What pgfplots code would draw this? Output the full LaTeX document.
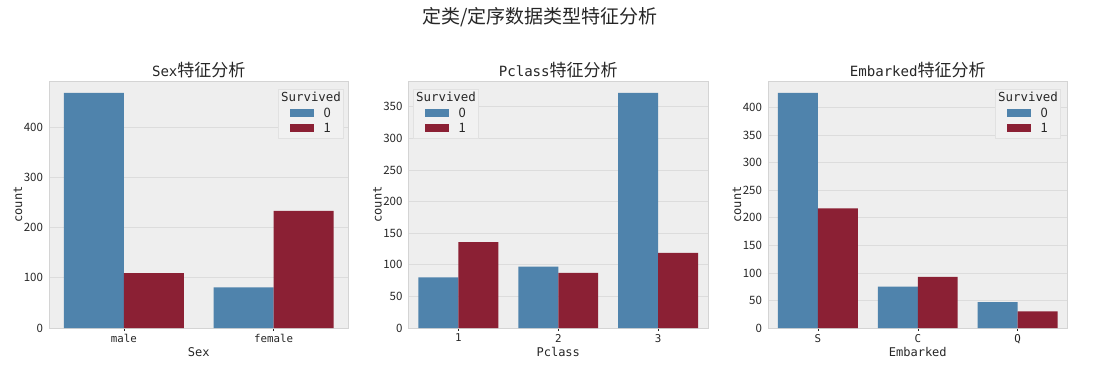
\documentclass[border=0pt]{standalone}
\usepackage{pgfplots}
\pgfplotsset{compat=1.18}
\usepackage{fontspec}
\setmainfont{Noto Sans CJK SC}
\newfontfamily\lat[Scale=0.83]{DejaVu Sans Mono}
\definecolor{c0}{HTML}{4F83AC}
\definecolor{c1}{HTML}{8B2034}
\definecolor{bg}{HTML}{EEEEEE}
\definecolor{gridc}{HTML}{DCDCDC}
\definecolor{framec}{HTML}{D4D4D4}
\definecolor{legbg}{HTML}{F1F1F1}
\definecolor{txt}{HTML}{262626}

\pgfplotsset{
  panel/.style={
    width=299.5pt, height=247pt, scale only axis,
    anchor=south west,
    axis background/.style={fill=bg},
    axis line style={framec, line width=0.8pt},
    ymin=0,
    ymajorgrids, major grid style={gridc, line width=0.8pt},
    tick align=outside, major tick length=2.5pt,
    xtick pos=bottom, ytick pos=left,
    xtick style={txt, line width=0.5pt},
    ytick style={draw=none},
    /pgf/number format/assume math mode=true,
    yticklabel style={font=\fontsize{11.5}{13}\selectfont, text=txt},
    xticklabel style={font=\fontsize{13}{15}\selectfont\lat, text=txt},
    every axis x label/.style={at={(rel axis cs:0.5,0)}, anchor=center, yshift=-24pt, font=\fontsize{14.5}{16}\selectfont\lat, text=txt},
    every axis y label/.style={at={(rel axis cs:0,0.5)}, xshift=-31pt, rotate=90, anchor=center, font=\fontsize{14.5}{16}\selectfont\lat, text=txt},
    every axis title/.style={at={(rel axis cs:0.5,1)}, anchor=center, yshift=11pt, font=\fontsize{17}{20}\selectfont, text=txt},
    ylabel={count},
  },
  b0/.style={ybar, fill=c0, draw=none, bar width=0.4, bar shift=-0.2},
  b1/.style={ybar, fill=c1, draw=none, bar width=0.4, bar shift=0.2},
}

\newcommand\survleg[1]{%
  \fill[legbg, draw=framec!70, line width=0.5pt] (#1,235) rectangle ++(65,49);
  \node[font=\fontsize{15}{17}\selectfont\lat, text=txt] at ({#1+33},276) {Survived};
  \fill[c0] ({#1+12},256) rectangle ++(24,8);
  \node[anchor=west, font=\fontsize{13}{15}\selectfont, text=txt] at ({#1+42},260) {0};
  \fill[c1] ({#1+12},241) rectangle ++(24,8);
  \node[anchor=west, font=\fontsize{13}{15}\selectfont, text=txt] at ({#1+42},245) {1};
}

\begin{document}
\begin{tikzpicture}[x=1pt,y=1pt]
\path[use as bounding box] (0,0) rectangle (1098,373);

\begin{axis}[panel, at={(49pt,45pt)},
  xmin=-0.5, xmax=1.5, ymax=491.4,
  xtick={0,1}, xticklabels={male,female},
  ytick={0,100,200,300,400},
  xlabel={Sex}, title={{\lat Sex}特征分析}]
\addplot[b0] coordinates {(0,468) (1,81)};
\addplot[b1] coordinates {(0,109) (1,233)};
\end{axis}

\begin{axis}[panel, at={(408.5pt,45pt)},
  xmin=-0.5, xmax=2.5, ymax=390.6,
  xtick={0,1,2}, xticklabels={1,2,3},
  ytick={0,50,100,150,200,250,300,350},
  xlabel={Pclass}, title={{\lat Pclass}特征分析}]
\addplot[b0] coordinates {(0,80) (1,97) (2,372)};
\addplot[b1] coordinates {(0,136) (1,87) (2,119)};
\end{axis}

\begin{axis}[panel, at={(768pt,45pt)},
  xmin=-0.5, xmax=2.5, ymax=448.35,
  xtick={0,1,2}, xticklabels={S,C,Q},
  ytick={0,50,100,150,200,250,300,350,400},
  xlabel={Embarked}, title={{\lat Embarked}特征分析}]
\addplot[b0] coordinates {(0,427) (1,75) (2,47)};
\addplot[b1] coordinates {(0,217) (1,93) (2,30)};
\end{axis}

\survleg{278}
\survleg{413}
\survleg{995}

\node[font=\fontsize{19}{22}\selectfont, text=txt] at (540,356) {定类/定序数据类型特征分析};
\end{tikzpicture}
\end{document}
